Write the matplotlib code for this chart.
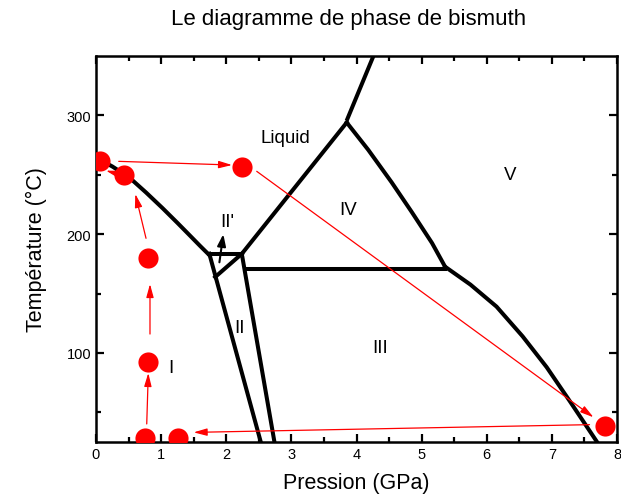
import matplotlib
matplotlib.use("Agg")
import matplotlib.pyplot as plt

plt.rcParams['font.family'] = ['Liberation Sans', 'DejaVu Sans']

# ---- phase boundaries (Pression GPa, Température °C) ----
I_L_P = [0.0, 0.25, 0.51, 0.77, 1.02, 1.25, 1.43, 1.60, 1.74]
I_L_T = [264.5, 257.0, 247.8, 235.0, 222.0, 209.5, 199.5, 190.0, 182.4]

IIp_top_P = [1.74, 2.24]
IIp_top_T = [183.5, 183.5]

II_IIp_P = [2.24, 1.83]
II_IIp_T = [183.5, 163.9]

I_II_P = [1.74, 2.53]
I_II_T = [183.5, 25.0]

II_III_P = [2.25, 2.74]
II_III_T = [179.9, 25.0]

L_IV_P = [2.24, 3.85]
L_IV_T = [183.5, 294.0]

L_V_P = [3.86, 4.26]
L_V_T = [297.0, 350.0]

IV_V_P = [3.85, 4.18, 4.54, 4.85, 5.16, 5.36]
IV_V_T = [294.0, 271.0, 243.6, 218.5, 192.5, 172.6]

III_IV_P = [2.30, 5.36]
III_IV_T = [171.0, 171.0]

V_III_P = [5.36, 5.75, 6.15, 6.55, 6.92, 7.28, 7.69]
V_III_T = [172.6, 157.5, 139.0, 114.0, 88.0, 59.0, 25.3]

# arrow inside II'
IIp_arrow_P = [1.895, 1.955]
IIp_arrow_T = [176.3, 200.0]

# ---- region labels ----
region_names = ["Liquid", "IV", "V", "II'", "II", "III", "I"]
region_P = [2.907, 3.868, 6.36, 2.02, 2.197, 4.36, 1.157]
region_T = [277.3, 216.9, 246.4, 207.0, 117.3, 100.8, 83.7]

# ---- red experimental path ----
dot_P = [0.069, 0.425, 2.238, 0.803, 0.803, 0.757, 1.261, 7.819]
dot_T = [261.5, 249.7, 256.2, 179.6, 92.1, 28.4, 28.7, 38.7]

arrow_tail_P = [0.779, 0.829, 0.768, 0.338, 0.349, 2.468, 7.578]
arrow_tail_T = [40.2, 115.9, 196.5, 250.6, 261.3, 252.9, 39.6]
arrow_head_P = [0.803, 0.829, 0.604, 0.154, 2.089, 7.639, 1.499]
arrow_head_T = [83.1, 158.0, 233.8, 253.5, 258.2, 45.8, 33.1]

fig = plt.figure(figsize=(6.21, 5.02), dpi=100)
ax = fig.add_axes([96/621, 59/502, 521/621, 386/502])

lw = 2.9
for P, T in [(I_L_P, I_L_T), (IIp_top_P, IIp_top_T), (II_IIp_P, II_IIp_T),
             (I_II_P, I_II_T), (II_III_P, II_III_T), (L_IV_P, L_IV_T),
             (L_V_P, L_V_T), (IV_V_P, IV_V_T), (III_IV_P, III_IV_T),
             (V_III_P, V_III_T)]:
    ax.plot(P, T, color='black', lw=lw, zorder=2)

ax.annotate('', xy=(IIp_arrow_P[1], IIp_arrow_T[1]), xytext=(IIp_arrow_P[0], IIp_arrow_T[0]),
            arrowprops=dict(arrowstyle='-|>,head_length=0.7,head_width=0.25', color='black',
                            lw=1.5, shrinkA=0, shrinkB=0), zorder=3)

for name, P, T in zip(region_names, region_P, region_T):
    ax.text(P, T, name, ha='center', va='baseline', fontsize=13.5, zorder=3)

for tp, tt, hp, ht in zip(arrow_tail_P, arrow_tail_T, arrow_head_P, arrow_head_T):
    ax.annotate('', xy=(hp, ht), xytext=(tp, tt),
                arrowprops=dict(arrowstyle='-|>,head_length=0.8,head_width=0.22', color='#ff0000',
                                lw=0.9, shrinkA=0, shrinkB=0), zorder=4)

ax.plot(dot_P, dot_T, 'o', color='#ff0000', ms=14.5, mec='none', zorder=5)

ax.set_xlim(0, 8)
ax.set_ylim(25, 350)
ax.set_xticks(range(0, 9))
ax.set_xticks([x + 0.5 for x in range(8)], minor=True)
ax.set_yticks([100, 200, 300])
ax.set_yticks([50, 150, 250], minor=True)
ax.tick_params(which='both', direction='in', top=True, right=True, width=1.6, labelsize=10.5)
ax.tick_params(which='major', length=6)
ax.tick_params(which='minor', length=3.5)
for s in ax.spines.values():
    s.set_linewidth(1.8)

ax.set_xlabel('Pression (GPa)', fontsize=15.5, labelpad=8)
ax.set_ylabel('Température (°C)', fontsize=15.5, labelpad=14)
fig.text(349/621, 1 - 20/502, 'Le diagramme de phase de bismuth', ha='center', va='center', fontsize=16)

fig.savefig('out.png', dpi=100)
